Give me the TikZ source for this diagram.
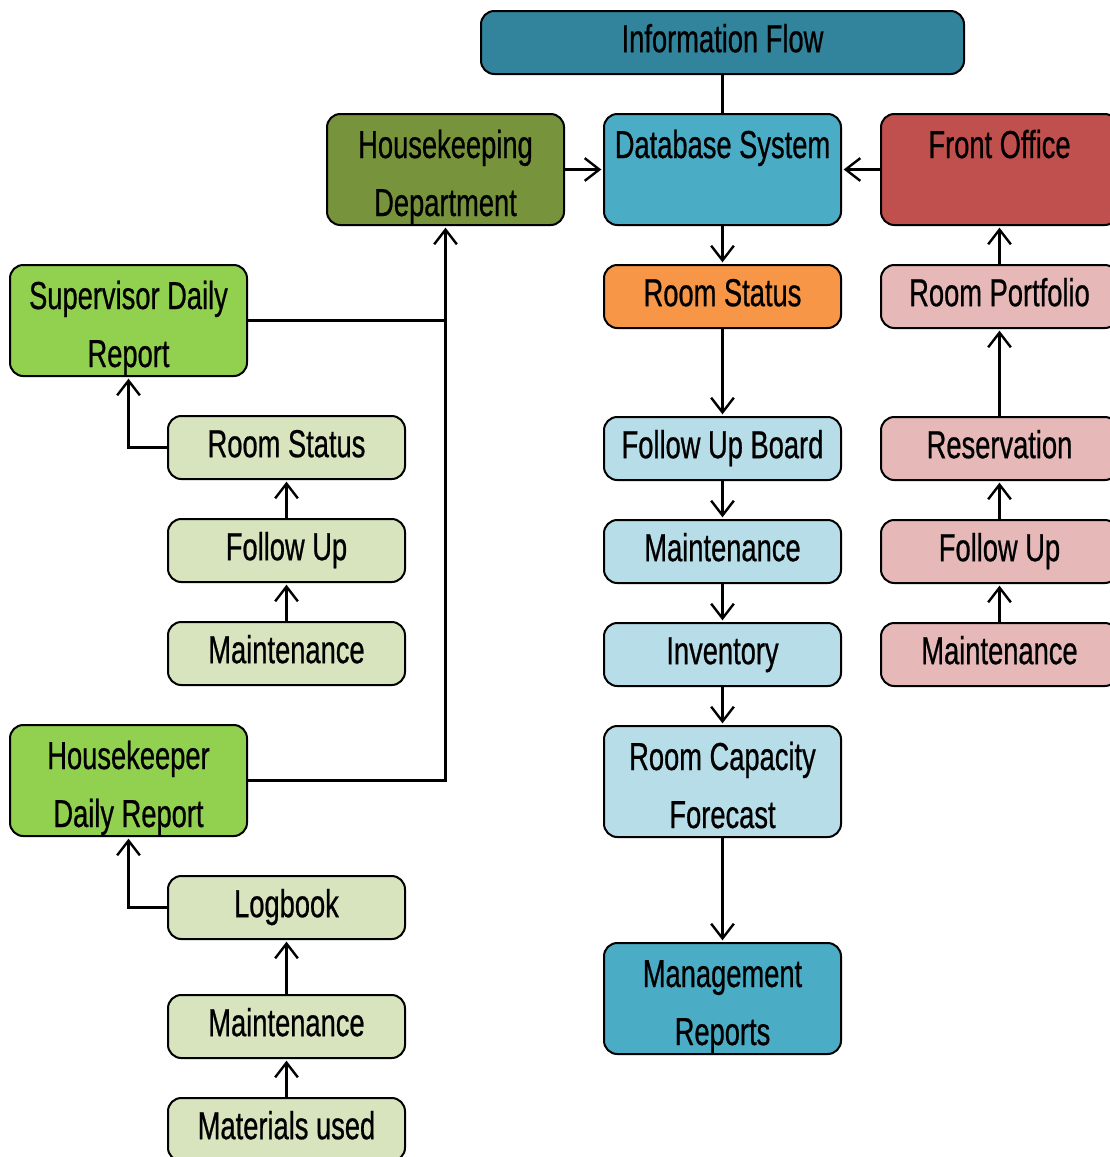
\documentclass[tikz,border=0pt]{standalone}
\usepackage{fontspec}
\setmainfont[FakeStretch=0.7, FakeBold=0.6]{Liberation Sans}
\usetikzlibrary{arrows.meta, positioning}

% Palette
\definecolor{headteal}{HTML}{31849B}
\definecolor{dbblue}{HTML}{4BACC6}
\definecolor{hkolive}{HTML}{77933C}
\definecolor{forust}{HTML}{C0504D}
\definecolor{statusorange}{HTML}{F79646}
\definecolor{reportgreen}{HTML}{92D050}
\definecolor{taskgreen}{HTML}{D7E4BD}
\definecolor{taskblue}{HTML}{B7DEE8}
\definecolor{taskpink}{HTML}{E6B9B8}

\tikzset{
    base/.style = {
        draw=black, line width=1.5pt, rounded corners=10pt, align=center,
        inner xsep=3pt, inner ysep=0pt, outer sep=0pt,
        minimum width=177.75pt, font=\fontsize{29.25}{43.5}\selectfont
    },
    % Boxes
    taskbox/.style = {base, minimum height=47.25pt, text height=22pt, text depth=7.5pt},
    tallbox/.style = {base, minimum height=83.25pt, text height=22pt, text depth=39.25pt},
    twoline/.style = {tallbox, text height=71.75pt, text depth=2pt},
    headbox/.style = {taskbox, fill=headteal, minimum width=362.25pt},
    % Edges
    link/.style  = {line width=1.8pt},
    arrow/.style = {link, -{Straight Barb[length=11pt, width=17pt]}, shorten >=2pt}
}

\begin{document}
\begin{tikzpicture}[x=0.75pt, y=-0.75pt, node distance=30pt]
    \clip (0,0) rectangle (1110,1157);

    % Nodes
    \node (info) [headbox] at (722.5,42.5) {Information Flow};
    \node (db) [tallbox, fill=dbblue, below=of info] {Database System};
    \node (hk) [twoline, fill=hkolive, left=of db] {Housekeeping\\Department};
    \node (fo) [tallbox, fill=forust, right=of db] {Front Office};

    % database column
    \node (status) [taskbox, fill=statusorange, below=of db] {Room Status};
    \node (board) [taskbox, fill=taskblue, below=66.75pt of status] {Follow Up Board};
    \node (dbmaint) [taskbox, fill=taskblue, below=of board] {Maintenance};
    \node (inventory) [taskbox, fill=taskblue, below=of dbmaint] {Inventory};
    \node (forecast) [twoline, fill=taskblue, below=of inventory] {Room Capacity\\Forecast};
    \node (mgmt) [twoline, fill=dbblue, below=79.5pt of forecast] {Management\\Reports};

    % front office column
    \node (portfolio) [taskbox, fill=taskpink, right=of status] {Room Portfolio};
    \node (reserv) [taskbox, fill=taskpink, below=66.75pt of portfolio] {Reservation};
    \node (fofollow) [taskbox, fill=taskpink, below=of reserv] {Follow Up};
    \node (fomaint) [taskbox, fill=taskpink, below=of fofollow] {Maintenance};

    % housekeeping reports
    \node (supervisor) [twoline, fill=reportgreen, below=of hk, xshift=-237.75pt] {Supervisor Daily\\Report};
    \node (hkstatus) [taskbox, fill=taskgreen, below=of supervisor, xshift=118.5pt] {Room Status};
    \node (hkfollow) [taskbox, fill=taskgreen, below=of hkstatus] {Follow Up};
    \node (hkmaint) [taskbox, fill=taskgreen, below=of hkfollow] {Maintenance};
    \node (keeper) [twoline, fill=reportgreen, below=of hkmaint, xshift=-118.5pt] {Housekeeper\\Daily Report};
    \node (logbook) [taskbox, fill=taskgreen, below=of keeper, xshift=118.5pt] {Logbook};
    \node (lbmaint) [taskbox, fill=taskgreen, below=42pt of logbook] {Maintenance};
    \node (materials) [taskbox, fill=taskgreen, below=of lbmaint] {Materials used};

    % Edges
    \draw [link] (info) -- (db);
    \draw [arrow] (hk) -- (db);
    \draw [arrow] (fo) -- (db);

    \draw [arrow] (db) -- (status);
    \draw [arrow] (status) -- (board);
    \draw [arrow] (board) -- (dbmaint);
    \draw [arrow] (dbmaint) -- (inventory);
    \draw [arrow] (inventory) -- (forecast);
    \draw [arrow] (forecast) -- (mgmt);

    \draw [arrow] (portfolio) -- (fo);
    \draw [arrow] (reserv) -- (portfolio);
    \draw [arrow] (fofollow) -- (reserv);
    \draw [arrow] (fomaint) -- (fofollow);

    \draw [link] (supervisor) -- (supervisor -| hk);
    \draw [arrow] (keeper) -| (hk);
    \draw [arrow] (hkstatus) -| (supervisor);
    \draw [arrow] (hkfollow) -- (hkstatus);
    \draw [arrow] (hkmaint) -- (hkfollow);
    \draw [arrow] (logbook) -| (keeper);
    \draw [arrow] (lbmaint) -- (logbook);
    \draw [arrow] (materials) -- (lbmaint);
\end{tikzpicture}
\end{document}
